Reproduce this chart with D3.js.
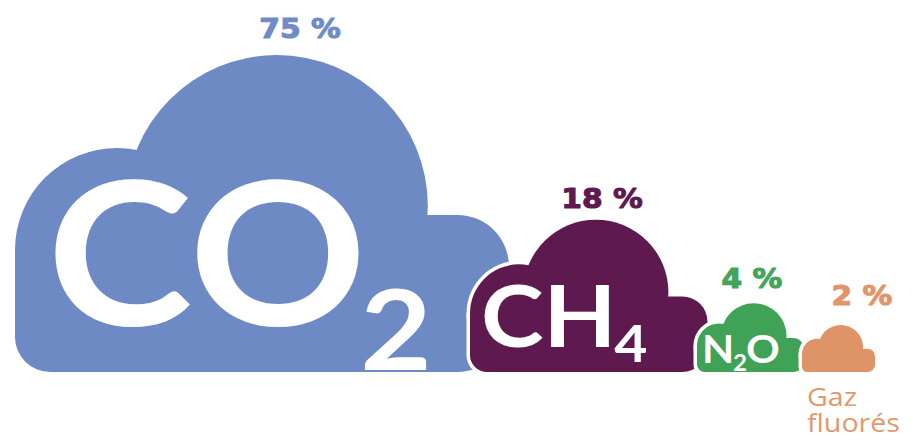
<!DOCTYPE html>
<html>
<head>
<meta charset="utf-8">
<script src="https://cdn.jsdelivr.net/npm/d3@7"></script>
<style>
  html, body { margin: 0; padding: 0; background: #ffffff; }
  svg { display: block; }
</style>
</head>
<body>
<svg id="chart" width="913" height="440"></svg>
<script>
// Greenhouse gas shares of total emissions
const gases = ["CO2", "CH4", "N2O", "Gaz fluorés"];
const shares = [75, 18, 4, 2];
const shareLabels = ["75 %", "18 %", "4 %", "2 %"];
// Chemical formulas written inside the clouds: [text, role]
const formulas = [
  [["CO", "main"], ["2", "sub"]],
  [["CH", "main"], ["4", "sub"]],
  [["N", "main"], ["2", "sub"], ["O", "main"]],
  null
];
const captionLines = ["Gaz", "fluorés"];

// Styling and layout
const colors = ["#6d8ac5", "#5e1a4f", "#3fa257", "#df9467"];
const labelColors = ["#6f8cc7", "#5e1a4f", "#43a55a", "#e0966a"];
const cloudLeft = [15, 470, 697, 802];
const baseY = 372;
const labelX = [300, 602, 752, 862];
const labelY = [38, 208, 288, 305];
const formulaX = [47, 481, 702];
const formulaY = [325, 347, 363];
const formulaSize = [200, 86, 38];
const subSize = [112, 52, 22];
const subDy = [45, 15, 8];
const subDx = [-6, -2, -1];
const textStretch = 1.1;

const svg = d3.select("#chart");

// Cloud width grows with the square root of the share (area encoding)
const widthScale = d3.scaleSqrt().domain([0, 75]).range([-9, 494]);

// Unit cloud, in fractions of cloud width; x to the right, y upward from the base
const cloudParts = {
  leftBump: { cx: 0.2065, cy: 0.247, r: 0.2065 },
  dome:     { cx: 0.530,  cy: 0.336, r: 0.3057 },
  rightBump:{ x0: 0.638, x1: 1.0, y1: 0.318, rx: 0.105 },
  base:     { x1: 0.75, y1: 0.247, r: 0.071 }
};

function drawCloud(g, left, w, fill, pad) {
  const X = x => left + x * w;
  const Y = y => baseY - y * w;
  const p = cloudParts;
  const grp = g.append("g").attr("fill", fill);
  [p.leftBump, p.dome].forEach(c => {
    grp.append("circle")
      .attr("cx", X(c.cx)).attr("cy", Y(c.cy)).attr("r", c.r * w + pad);
  });
  const rb = p.rightBump;
  grp.append("rect")
    .attr("x", X(rb.x0) - pad).attr("y", Y(rb.y1) - pad)
    .attr("width", (rb.x1 - rb.x0) * w + 2 * pad)
    .attr("height", rb.y1 * w + 2 * pad)
    .attr("rx", rb.rx * w + pad);
  // base block with a rounded bottom-left corner
  const b = p.base;
  const r = b.r * w + pad;
  const x0 = X(0) - pad, x1 = X(b.x1), yT = Y(b.y1), yB = baseY + pad;
  const path = d3.path();
  path.moveTo(x0, yT);
  path.lineTo(x1, yT);
  path.lineTo(x1, yB);
  path.lineTo(x0 + r, yB);
  path.arcTo(x0, yB, x0, yB - r, r);
  path.closePath();
  grp.append("path").attr("d", path.toString());
}

const clouds = svg.append("g");
gases.forEach((gas, i) => {
  const w = widthScale(shares[i]);
  const g = clouds.append("g").attr("class", "cloud");
  if (i > 0) drawCloud(g, cloudLeft[i], w, "#ffffff", 3.5);
  drawCloud(g, cloudLeft[i], w, colors[i], 0);

  const parts = formulas[i];
  if (parts) {
    const t = g.append("text")
      .attr("transform", `translate(${formulaX[i]},${formulaY[i]}) scale(${textStretch},1)`)
      .attr("fill", "#ffffff")
      .attr("font-family", "Lato, 'Open Sans', sans-serif")
      .attr("font-weight", 700)
      .attr("font-size", formulaSize[i]);
    let lowered = false;
    parts.forEach(([txt, role]) => {
      const s = t.append("tspan").text(txt);
      if (role === "sub") {
        s.attr("font-size", subSize[i]).attr("dy", subDy[i]).attr("dx", subDx[i]);
        lowered = true;
      } else if (lowered) {
        s.attr("dy", -subDy[i]).attr("dx", subDx[i]);
        lowered = false;
      }
    });
  }
});

// Share labels above each cloud
svg.append("g").selectAll("text")
  .data(shareLabels)
  .join("text")
  .attr("transform", (d, i) => `translate(${labelX[i]},${labelY[i]}) scale(${textStretch},1)`)
  .attr("text-anchor", "middle")
  .attr("fill", (d, i) => labelColors[i])
  .attr("stroke", (d, i) => labelColors[i])
  .attr("stroke-width", 1.1)
  .attr("stroke-linejoin", "round")
  .attr("font-family", "'DejaVu Sans', sans-serif")
  .attr("font-weight", 700)
  .attr("font-size", 27)
  .text(d => d);

// Caption for the fluorinated gases
svg.append("g")
  .attr("transform", `translate(807,406) scale(${textStretch},1)`)
  .append("text")
  .attr("fill", "#e0996e")
  .attr("font-family", "'Open Sans', sans-serif")
  .attr("font-size", 26)
  .selectAll("tspan")
  .data(captionLines)
  .join("tspan")
  .attr("x", 0)
  .attr("dy", (d, i) => i === 0 ? 0 : 26)
  .text(d => d);
</script>
</body>
</html>
